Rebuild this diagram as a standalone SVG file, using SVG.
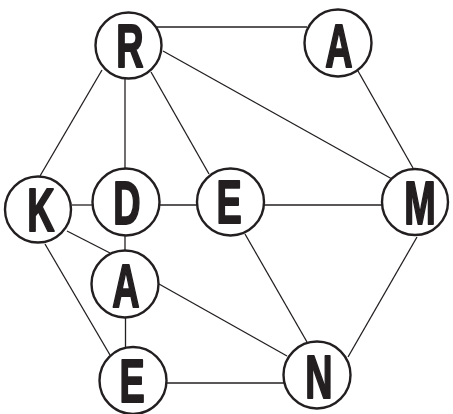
<svg xmlns="http://www.w3.org/2000/svg" width="453" height="414" viewBox="0 0 453 414">
<style>
.e{stroke:#231f20;stroke-width:1.3;fill:none}
.n circle{fill:#fff;stroke:#231f20;stroke-width:2.4}
.n text{font-family:"Liberation Sans",Arial,sans-serif;font-weight:bold;font-size:61px;fill:#231f20;stroke:#231f20;stroke-width:2;stroke-linejoin:round;text-anchor:middle}
</style>
<rect width="453" height="414" fill="#fff"/>
<g id="edges">
<line class="e" x1="157" y1="27" x2="307" y2="27"/>
<line class="e" x1="102" y1="70" x2="40" y2="176"/>
<line class="e" x1="125" y1="79" x2="125" y2="168"/>
<line class="e" x1="151" y1="72" x2="209" y2="174"/>
<line class="e" x1="163" y1="51" x2="392" y2="179"/>
<line class="e" x1="358" y1="71" x2="413" y2="168"/>
<line class="e" x1="72" y1="205" x2="93" y2="205"/>
<line class="e" x1="67" y1="231" x2="110" y2="253"/>
<line class="e" x1="45" y1="244" x2="110" y2="355"/>
<line class="e" x1="160" y1="205" x2="197" y2="205"/>
<line class="e" x1="125" y1="236" x2="125" y2="250"/>
<line class="e" x1="264" y1="205" x2="382" y2="205"/>
<line class="e" x1="245" y1="234" x2="307" y2="342"/>
<line class="e" x1="417" y1="237" x2="348" y2="357"/>
<line class="e" x1="159" y1="284" x2="287" y2="356"/>
<line class="e" x1="125.5" y1="317" x2="125.5" y2="348"/>
<line class="e" x1="166" y1="383" x2="284" y2="383"/>
</g>
<g id="R" class="n"><circle cx="128.5" cy="45.5" r="33"/><text transform="translate(130 67) scale(0.62 1)">R</text></g>
<g id="A1" class="n"><circle cx="338" cy="43" r="33.5"/><text transform="translate(339 67) scale(0.62 1)">A</text></g>
<g id="K" class="n"><circle cx="38" cy="209.5" r="33"/><text transform="translate(41 231) scale(0.62 1)">K</text></g>
<g id="D" class="n"><circle cx="126" cy="202" r="33.5"/><text transform="translate(127 224) scale(0.62 1)">D</text></g>
<g id="E1" class="n"><circle cx="230.5" cy="202" r="33.5"/><text transform="translate(229 223) scale(0.62 1)">E</text></g>
<g id="M" class="n"><circle cx="415" cy="202" r="33"/><text transform="translate(420 224) scale(0.62 1)">M</text></g>
<g id="A2" class="n"><circle cx="125" cy="284" r="33.5"/><text transform="translate(126 307) scale(0.62 1)">A</text></g>
<g id="E2" class="n"><circle cx="133" cy="380.5" r="33.5"/><text transform="translate(132 402) scale(0.62 1)">E</text></g>
<g id="N" class="n"><circle cx="317" cy="375" r="33.5"/><text transform="translate(319 398) scale(0.62 1)">N</text></g>
</svg>
